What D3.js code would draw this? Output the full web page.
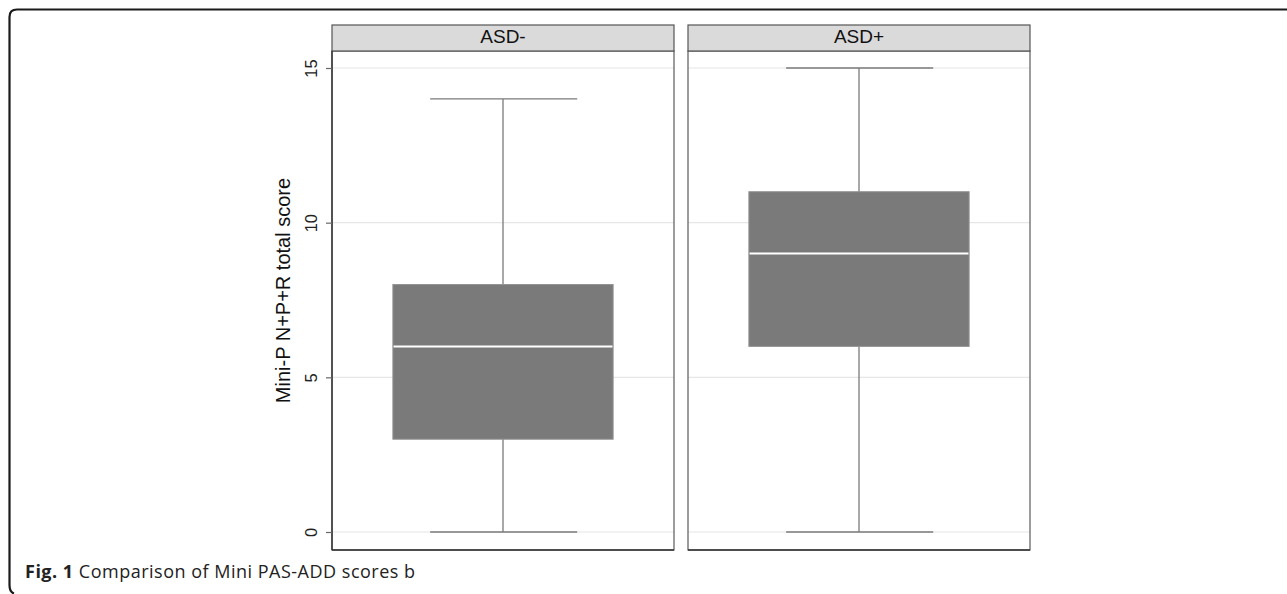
<!DOCTYPE html>
<html>
<head>
<meta charset="utf-8">
<script src="https://cdn.jsdelivr.net/npm/d3@7"></script>
<style>
  html, body { margin: 0; padding: 0; background: #fff; }
  svg { display: block; }
</style>
</head>
<body>
<svg id="chart" width="1287" height="594"></svg>
<script>
// ---- data ----
const groups = ["ASD-", "ASD+"];
const whiskerLow = [0, 0];
const q1 = [3, 6];
const median = [6, 9];
const q3 = [8, 11];
const whiskerHigh = [14, 15];
const yTicks = [0, 5, 10, 15];
const yLabel = "Mini-P N+P+R total score";
const captionBold = "Fig. 1";
const captionText = " Comparison of Mini PAS-ADD scores b";

const svg = d3.select("#chart");

// frame (rounded open border)
svg.append("path")
  .attr("d", "M1287,9.5 L17,9.5 Q9.5,9.5 9.5,17 L9.5,585 Q9.5,592 14,593.5")
  .attr("fill", "none").attr("stroke", "#1a1a1a").attr("stroke-width", 2.2);

// ---- scales ----
const plotTop = 51, plotBottom = 550, headerTop = 25;
const y = d3.scaleLinear().domain([0, 15]).range([532, 68]);
const x = d3.scaleBand().domain(groups).range([332, 1030]).paddingInner(14 / 356).paddingOuter(0);
const inner = d3.scaleLinear().domain([0, 1]).range([0, x.bandwidth()]);

const data = groups.map((g, i) => ({
  g, lo: whiskerLow[i], q1: q1[i], med: median[i], q3: q3[i], hi: whiskerHigh[i]
}));

const panels = svg.selectAll("g.panel").data(data).join("g")
  .attr("class", "panel")
  .attr("transform", d => `translate(${x(d.g)},0)`);

// gridlines
panels.each(function () {
  d3.select(this).selectAll("line.grid").data(yTicks).join("line")
    .attr("class", "grid")
    .attr("x1", 0).attr("x2", x.bandwidth())
    .attr("y1", d => y(d)).attr("y2", d => y(d))
    .attr("stroke", "#e6e6e6").attr("stroke-width", 1.2);
});

// whiskers
panels.append("line")
  .attr("x1", inner(0.5)).attr("x2", inner(0.5))
  .attr("y1", d => y(d.hi)).attr("y2", d => y(d.lo))
  .attr("stroke", "#7a7a7a").attr("stroke-width", 1.3);
panels.append("line")
  .attr("x1", inner(0.287)).attr("x2", inner(0.717))
  .attr("y1", d => y(d.hi)).attr("y2", d => y(d.hi))
  .attr("stroke", "#7a7a7a").attr("stroke-width", 1.3);
panels.append("line")
  .attr("x1", inner(0.287)).attr("x2", inner(0.717))
  .attr("y1", d => y(d.lo)).attr("y2", d => y(d.lo))
  .attr("stroke", "#7a7a7a").attr("stroke-width", 1.3);

// boxes
panels.append("rect")
  .attr("x", inner(0.178)).attr("width", inner(0.822) - inner(0.178))
  .attr("y", d => y(d.q3)).attr("height", d => y(d.q1) - y(d.q3))
  .attr("fill", "#7a7a7a").attr("stroke", "#939393").attr("stroke-width", 1);
panels.append("line")
  .attr("x1", inner(0.18)).attr("x2", inner(0.82))
  .attr("y1", d => y(d.med)).attr("y2", d => y(d.med))
  .attr("stroke", "#ffffff").attr("stroke-width", 2);

// panel border
panels.append("rect")
  .attr("x", 0).attr("y", plotTop).attr("width", x.bandwidth()).attr("height", plotBottom - plotTop)
  .attr("fill", "none").attr("stroke", "#5a5a5a").attr("stroke-width", 1.2);

// header strip
panels.append("rect")
  .attr("x", 0).attr("y", headerTop).attr("width", x.bandwidth()).attr("height", plotTop - headerTop)
  .attr("fill", "#dadada").attr("stroke", "#555").attr("stroke-width", 1.2);
panels.append("text")
  .attr("x", x.bandwidth() / 2).attr("y", 43)
  .attr("text-anchor", "middle")
  .attr("font-family", "Liberation Sans, Arial, sans-serif").attr("font-size", 19)
  .attr("fill", "#111").text(d => d.g);

// axis lines dark
svg.append("line")
  .attr("x1", x(groups[0])).attr("x2", x(groups[0]))
  .attr("y1", plotTop).attr("y2", plotBottom)
  .attr("stroke", "#333").attr("stroke-width", 1.4);
groups.forEach(g => {
  svg.append("line")
    .attr("x1", x(g)).attr("x2", x(g) + x.bandwidth())
    .attr("y1", plotBottom).attr("y2", plotBottom)
    .attr("stroke", "#333").attr("stroke-width", 1.4);
});

// y axis ticks
const ax = svg.append("g").attr("transform", `translate(${x(groups[0])},0)`)
  .call(d3.axisLeft(y).tickValues(yTicks).tickSize(6).tickPadding(0).tickFormat(d3.format("d")));
ax.select(".domain").remove();
ax.selectAll(".tick line").attr("stroke", "#666").attr("stroke-width", 1.2);
ax.selectAll(".tick text")
  .attr("font-family", "Liberation Sans, Arial, sans-serif").attr("font-size", 16.5).attr("fill", "#222")
  .attr("x", null).attr("dy", null)
  .attr("text-anchor", "middle")
  .attr("transform", "translate(-14.7,0) rotate(-90)");

// y label
svg.append("text")
  .attr("transform", `translate(290,290.5) rotate(-90)`)
  .attr("text-anchor", "middle")
  .attr("font-family", "Liberation Sans, Arial, sans-serif").attr("font-size", 20)
  .attr("fill", "#111").text(yLabel);

// caption
const cap = svg.append("text").attr("x", 25).attr("y", 578)
  .attr("font-family", "Open Sans, Noto Sans, sans-serif").attr("font-size", 18)
  .attr("letter-spacing", 0.5).attr("fill", "#222");
cap.append("tspan").attr("font-weight", "bold").text(captionBold);
cap.append("tspan").text(captionText);
</script>
</body>
</html>
